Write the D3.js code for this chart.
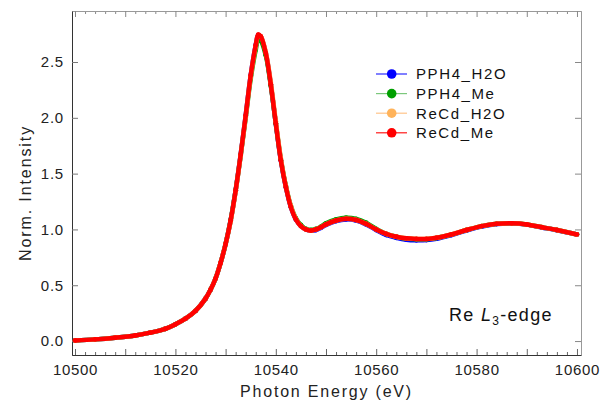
<!DOCTYPE html>
<html>
<head>
<meta charset="utf-8">
<script src="https://cdn.jsdelivr.net/npm/d3@7"></script>
<style>
  html, body { margin: 0; padding: 0; background: #fff; }
  svg { display: block; font-family: "Liberation Sans", Arial, sans-serif; }
  .tick text { fill: #222; }
</style>
</head>
<body>
<svg id="chart" width="603" height="400"></svg>
<script>
// photon energy (eV), shared by every series
const energy = [10500, 10504, 10508, 10512, 10515, 10518, 10520, 10522, 10524, 10526,
  10527, 10528, 10529, 10530, 10531, 10532, 10533, 10534, 10535, 10536,
  10536.5, 10537, 10538, 10539, 10540, 10541, 10542, 10543, 10544, 10545,
  10546, 10547, 10548, 10549, 10550, 10552, 10554, 10556, 10558, 10560,
  10562, 10564, 10566, 10568, 10570, 10572, 10575, 10578, 10581, 10584,
  10587, 10590, 10593, 10596, 10600];

const pph4H2O = [0.005, 0.015, 0.03, 0.05, 0.075, 0.11, 0.15, 0.2, 0.27, 0.38,
  0.46, 0.56, 0.7, 0.87, 1.08, 1.35, 1.67, 2.02, 2.38, 2.65,
  2.74, 2.725, 2.58, 2.3, 1.95, 1.62, 1.38, 1.2, 1.09, 1.03,
  1.0, 0.99, 0.995, 1.015, 1.04, 1.075, 1.09, 1.08, 1.045, 0.995,
  0.95, 0.925, 0.908, 0.903, 0.905, 0.917, 0.95, 0.99, 1.025, 1.048,
  1.053, 1.043, 1.018, 0.993, 0.955];

const pph4Me = [0.005, 0.015, 0.03, 0.05, 0.075, 0.11, 0.15, 0.2, 0.27, 0.38,
  0.46, 0.56, 0.7, 0.87, 1.08, 1.35, 1.66, 2.0, 2.35, 2.61,
  2.70, 2.69, 2.56, 2.29, 1.95, 1.63, 1.39, 1.21, 1.1, 1.04,
  1.005, 0.995, 1.005, 1.025, 1.055, 1.09, 1.105, 1.095, 1.06, 1.005,
  0.96, 0.935, 0.918, 0.912, 0.913, 0.924, 0.955, 0.995, 1.03, 1.05,
  1.055, 1.045, 1.02, 0.995, 0.955];

const recdH2O = [0.005, 0.015, 0.03, 0.05, 0.075, 0.11, 0.15, 0.2, 0.27, 0.38,
  0.46, 0.56, 0.7, 0.87, 1.07, 1.34, 1.66, 2.01, 2.37, 2.64,
  2.735, 2.73, 2.59, 2.32, 1.97, 1.64, 1.39, 1.21, 1.095, 1.03,
  1.0, 0.99, 1.0, 1.02, 1.045, 1.08, 1.095, 1.085, 1.05, 1.0,
  0.96, 0.935, 0.92, 0.915, 0.915, 0.925, 0.955, 0.995, 1.03, 1.05,
  1.055, 1.045, 1.02, 0.995, 0.955];

const recdMe = [0.005, 0.015, 0.03, 0.05, 0.075, 0.11, 0.15, 0.2, 0.27, 0.38,
  0.46, 0.56, 0.7, 0.87, 1.08, 1.35, 1.67, 2.02, 2.38, 2.65,
  2.745, 2.73, 2.58, 2.3, 1.95, 1.62, 1.38, 1.2, 1.09, 1.03,
  1.0, 0.99, 1.0, 1.02, 1.045, 1.08, 1.095, 1.085, 1.05, 1.0,
  0.96, 0.935, 0.92, 0.915, 0.915, 0.925, 0.955, 0.995, 1.03, 1.05,
  1.055, 1.045, 1.02, 0.995, 0.955];

const seriesNames = ["PPH4_H2O", "PPH4_Me", "ReCd_H2O", "ReCd_Me"];
const seriesValues = [pph4H2O, pph4Me, recdH2O, recdMe];
const markerColors = ["#0000ff", "#00a000", "#ffb35a", "#ff0000"];
const lineColors = ["#2a2aff", "#7cc87c", "#ffc48a", "#ff1a1a"];

const xTickLabels = [10500, 10520, 10540, 10560, 10580, 10600];
const yTickLabels = [0, 0.5, 1.0, 1.5, 2.0, 2.5];

const svg = d3.select("#chart");
const frame = { left: 72, right: 581, top: 11, bottom: 355 };

const x = d3.scaleLinear().domain([10499.4, 10600.8]).range([frame.left, frame.right]);
const y = d3.scaleLinear().domain([-0.125, 2.957]).range([frame.bottom, frame.top]);

const majorX = d3.range(10500, 10601, 10);
const minorX = d3.range(10500, 10601, 2).filter((v) => (v - 10500) % 10 !== 0);

function styleAxis(g, lineColor, tickColor) {
  g.selectAll(".domain").attr("stroke", lineColor).attr("stroke-width", 1);
  g.selectAll(".tick line").attr("stroke", tickColor);
}

// bottom axis: labels every 20, inward ticks every 10 and every 2
const bottomAxis = svg.append("g").attr("transform", `translate(0,${frame.bottom})`);
bottomAxis.call(d3.axisBottom(x).tickValues(minorX).tickSize(-3).tickFormat("").tickSizeOuter(0));
bottomAxis.append("g").call(d3.axisBottom(x).tickValues(majorX).tickSize(-6).tickSizeOuter(0)
  .tickFormat((d) => (xTickLabels.includes(d) ? d : "")).tickPadding(12));
styleAxis(bottomAxis, "#333", "#666");
bottomAxis.selectAll("text")
  .attr("font-size", 15).attr("letter-spacing", "0.7px").attr("dy", "0.55em");

const topAxis = svg.append("g").attr("transform", `translate(0,${frame.top})`);
topAxis.call(d3.axisTop(x).tickValues(minorX).tickSize(-3).tickFormat("").tickSizeOuter(0));
topAxis.append("g").call(d3.axisTop(x).tickValues(majorX).tickSize(-6).tickFormat("").tickSizeOuter(0));
styleAxis(topAxis, "#999", "#888");

const leftAxis = svg.append("g").attr("transform", `translate(${frame.left},0)`);
leftAxis.call(d3.axisLeft(y).tickValues(yTickLabels).tickSize(-6).tickSizeOuter(0)
  .tickFormat(d3.format(".1f")).tickPadding(8));
styleAxis(leftAxis, "#333", "#777");
leftAxis.selectAll("text").attr("font-size", 15).attr("letter-spacing", "0.8px");

const rightAxis = svg.append("g").attr("transform", `translate(${frame.right},0)`);
rightAxis.call(d3.axisRight(y).tickValues(yTickLabels).tickSize(-6).tickFormat("").tickSizeOuter(0));
styleAxis(rightAxis, "#999", "#888");

// axis titles
svg.append("text")
  .attr("x", (frame.left + frame.right) / 2)
  .attr("y", 397)
  .attr("text-anchor", "middle")
  .attr("font-size", 16)
  .attr("letter-spacing", "1.8px")
  .attr("fill", "#222")
  .text("Photon Energy (eV)");

svg.append("text")
  .attr("transform", `translate(31,${(frame.top + frame.bottom) / 2 + 10}) rotate(-90)`)
  .attr("text-anchor", "middle")
  .attr("font-size", 16)
  .attr("letter-spacing", "1.9px")
  .attr("fill", "#222")
  .text("Norm. Intensity");

// series
const line = d3.line()
  .x((d) => x(d[0]))
  .y((d) => y(d[1]))
  .curve(d3.curveCatmullRom.alpha(0.5));

const plot = svg.append("g");
seriesValues.forEach((vals, i) => {
  const pts = energy.map((e, j) => [e, vals[j]]);
  plot.append("path")
    .datum(pts)
    .attr("fill", "none")
    .attr("stroke", markerColors[i])
    .attr("stroke-width", 4.5)
    .attr("stroke-linejoin", "round")
    .attr("d", line);
  plot.append("g")
    .selectAll("circle")
    .data(pts)
    .join("circle")
    .attr("cx", (d) => x(d[0]))
    .attr("cy", (d) => y(d[1]))
    .attr("r", 2.4)
    .attr("fill", markerColors[i]);
});

// legend
const legend = svg.append("g").attr("transform", "translate(376,74)");
seriesNames.forEach((name, i) => {
  const row = legend.append("g").attr("transform", `translate(0,${i * 19.6})`);
  row.append("line")
    .attr("x1", 0).attr("x2", 31)
    .attr("stroke", lineColors[i])
    .attr("stroke-width", 1.2);
  row.append("circle")
    .attr("cx", 15.7)
    .attr("r", 4.8)
    .attr("fill", markerColors[i]);
  row.append("text")
    .attr("x", 40)
    .attr("dy", "0.36em")
    .attr("font-size", 15)
    .attr("letter-spacing", "1.6px")
    .attr("fill", "#111")
    .text(name);
});

// edge annotation
const note = svg.append("text")
  .attr("x", 449)
  .attr("y", 321)
  .attr("font-size", 18)
  .attr("letter-spacing", "1.3px")
  .attr("fill", "#111");
note.append("tspan").text("Re ");
note.append("tspan").attr("font-style", "italic").text("L");
note.append("tspan").attr("font-size", 12).attr("dy", 4).text("3");
note.append("tspan").attr("dy", -4).text("-edge");
</script>
</body>
</html>
